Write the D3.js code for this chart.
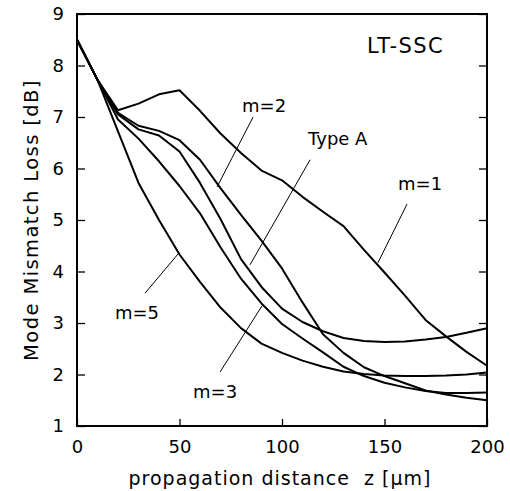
<!DOCTYPE html>
<html>
<head>
<meta charset="utf-8">
<script src="https://cdn.jsdelivr.net/npm/d3@7/dist/d3.min.js"></script>
<style>
  html, body { margin: 0; padding: 0; background: #fff; }
  svg { display: block; }
  text { font-family: "DejaVu Sans", sans-serif; fill: #000; white-space: pre; }
</style>
</head>
<body>
<svg id="chart" width="510" height="491"></svg>
<script>
// ---- data ----
const zValues = [0,10,20,30,40,50,60,70,80,90,100,110,120,130,140,150,160,170,180,190,200];
const lossM1    = [8.5,7.72,7.13,7.26,7.44,7.52,7.12,6.68,6.30,5.96,5.77,5.45,5.16,4.88,4.42,3.98,3.53,3.06,2.74,2.44,2.17];
const lossM2    = [8.5,7.72,7.08,6.83,6.73,6.55,6.17,5.62,5.10,4.60,4.06,3.40,2.78,2.42,2.14,1.97,1.83,1.69,1.61,1.55,1.50];
const lossTypeA = [8.5,7.72,7.05,6.76,6.64,6.33,5.72,5.02,4.24,3.70,3.28,3.02,2.84,2.71,2.65,2.63,2.64,2.68,2.73,2.81,2.90];
const lossM3    = [8.5,7.72,6.95,6.58,6.14,5.66,5.13,4.47,3.86,3.38,2.98,2.70,2.43,2.15,1.97,1.84,1.75,1.68,1.64,1.64,1.65];
const lossM5    = [8.5,7.72,6.72,5.72,5.00,4.33,3.80,3.30,2.90,2.60,2.42,2.27,2.15,2.06,2.01,1.98,1.97,1.97,1.98,2.00,2.04];
const seriesNames = ["m=1","m=2","Type A","m=3","m=5"];
const seriesValues = [lossM1, lossM2, lossTypeA, lossM3, lossM5];

const xMajorTicks = [0,50,100,150,200];
const yMajorTicks = [1,2,3,4,5,6,7,8,9];
const xLabel = "propagation distance  z [\u00b5m]";
const yLabel = "Mode Mismatch Loss [dB]";
const titleText = "LT-SSC";
const titlePos = [141.5, 8.24];

// annotations (data units): label anchor, leader start, leader end
const labelText  = ["m=2","Type A","m=1","m=5","m=3"];
const labelPos   = [[80.5,7.10],[112.7,6.46],[156.6,5.58],[18.5,3.08],[56.6,1.54]];
const leaderFrom = [[85.9,7.00],[113.7,6.17],[161.0,5.31],[33.2,3.58],[69.8,2.05]];
const leaderTo   = [[68.3,5.64],[84.4,4.13],[146.8,4.17],[49.3,4.34],[90.2,3.33]];

// ---- layout ----
const svg = d3.select("#chart");
const x = d3.scaleLinear().domain([0,200]).range([77,487]);
const y = d3.scaleLinear().domain([1,9]).range([426,14]);

// axes
const gB = svg.append("g").attr("transform", `translate(0,${y(1)})`);
gB.call(d3.axisBottom(x).tickValues(d3.range(0,201,10)).tickSize(-3.5).tickFormat(""));
gB.call(d3.axisBottom(x).tickValues(xMajorTicks).tickSize(-7).tickPadding(14).tickFormat(d3.format("d")));

const gL = svg.append("g").attr("transform", `translate(${x(0)},0)`);
gL.call(d3.axisLeft(y).tickValues(d3.range(1,9.01,0.2)).tickSize(-4).tickFormat(""));
gL.call(d3.axisLeft(y).tickValues(yMajorTicks).tickSize(-8).tickPadding(13).tickFormat(d3.format("d")));

const gR = svg.append("g").attr("transform", `translate(${x(200)},0)`);
gR.call(d3.axisRight(y).tickValues(d3.range(1,9.01,0.2)).tickSize(-4).tickFormat(""));
gR.call(d3.axisRight(y).tickValues(yMajorTicks).tickSize(-8).tickFormat(""));

svg.selectAll(".domain").remove();
svg.selectAll(".tick line").attr("stroke","#000").attr("stroke-width",1.3);
svg.selectAll(".tick text").attr("font-size",18).attr("font-family","DejaVu Sans").attr("fill","#000");

// frame
svg.append("rect")
  .attr("x", x(0)).attr("y", y(9))
  .attr("width", x(200)-x(0)).attr("height", y(1)-y(9))
  .attr("fill","none").attr("stroke","#000").attr("stroke-width",2);

// curves
const line = d3.line().x((d,i)=>x(zValues[i])).y(d=>y(d)).curve(d3.curveLinear);
svg.append("g").selectAll("path").data(seriesValues).join("path")
  .attr("d", d=>line(d))
  .attr("fill","none").attr("stroke","#000").attr("stroke-width",2)
  .attr("stroke-linejoin","round");

// leader lines
svg.append("g").selectAll("line").data(labelText).join("line")
  .attr("x1",(d,i)=>x(leaderFrom[i][0])).attr("y1",(d,i)=>y(leaderFrom[i][1]))
  .attr("x2",(d,i)=>x(leaderTo[i][0])).attr("y2",(d,i)=>y(leaderTo[i][1]))
  .attr("stroke","#000").attr("stroke-width",1);

// labels
svg.append("g").selectAll("text").data(labelText).join("text")
  .attr("x",(d,i)=>x(labelPos[i][0])).attr("y",(d,i)=>y(labelPos[i][1]))
  .attr("font-size",18).text(d=>d);

svg.append("text").attr("x",x(titlePos[0])).attr("y",y(titlePos[1]))
  .attr("font-size",21).attr("letter-spacing",1.4).text(titleText);

// axis titles
svg.append("text").attr("x",280).attr("y",485)
  .attr("text-anchor","middle").attr("font-size",19).attr("letter-spacing",1.0).text(xLabel);
svg.append("text").attr("transform",`translate(38,220) rotate(-90)`)
  .attr("text-anchor","middle").attr("font-size",19.5).attr("letter-spacing",1.4).text(yLabel);
</script>
</body>
</html>
